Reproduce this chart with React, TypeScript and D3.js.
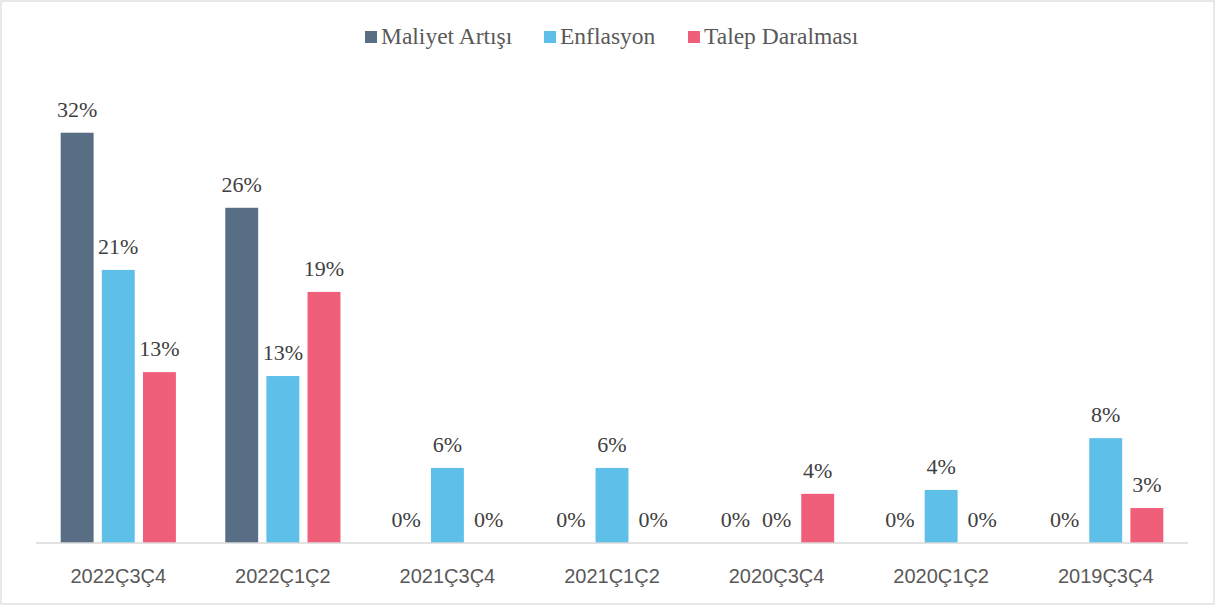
import React, {useRef, useEffect} from 'react'
import * as d3 from 'd3'

const categories = ['2022Ç3Ç4', '2022Ç1Ç2', '2021Ç3Ç4', '2021Ç1Ç2', '2020Ç3Ç4', '2020Ç1Ç2', '2019Ç3Ç4']
const seriesNames = ['Maliyet Artışı', 'Enflasyon', 'Talep Daralması']
const maliyet = [0.317, 0.259, 0, 0, 0, 0, 0]
const enflasyon = [0.211, 0.129, 0.058, 0.058, 0, 0.041, 0.081]
const talep = [0.132, 0.194, 0, 0, 0.038, 0, 0.027]
const colors = ['#586e85', '#5ec0e9', '#f05f79']

const W = 1217
const H = 608

const App = () => {
    const element = useRef<SVGSVGElement>(null)

    useEffect(() => {
        const svg = d3.select(element.current)
        svg.selectAll('*').remove()

        const values = [maliyet, enflasyon, talep]
        const left = 36, right = 1188, baseY = 543

        // outer chart border
        svg.append('rect')
            .attr('x', 1).attr('y', 1)
            .attr('width', W - 4).attr('height', H - 5)
            .attr('fill', '#fff')
            .attr('stroke', '#d9d9d9')
            .attr('stroke-width', 1.2)

        const x0 = d3.scaleBand<string>()
            .domain(categories)
            .range([left, right])
            .paddingInner(0.3)
            .paddingOuter(0.15)

        const x1 = d3.scaleBand<string>()
            .domain(seriesNames)
            .range([0, x0.bandwidth()])
            .paddingInner(0.2)

        const y = d3.scaleLinear()
            .domain([0, 0.35])
            .range([baseY, 90])

        const fmt = d3.format('.0%')

        const groups = svg.selectAll('g.cat')
            .data(categories)
            .enter()
            .append('g')
            .attr('class', 'cat')
            .attr('transform', d => `translate(${x0(d)},0)`)

        seriesNames.forEach((s, si) => {
            groups.append('rect')
                .attr('x', x1(s))
                .attr('y', (d, i) => y(values[si][i]))
                .attr('width', x1.bandwidth())
                .attr('height', (d, i) => baseY - y(values[si][i]))
                .attr('fill', colors[si])

            groups.append('text')
                .attr('x', x1(s) + x1.bandwidth() / 2)
                .attr('y', (d, i) => y(values[si][i]) - 16)
                .attr('text-anchor', 'middle')
                .style('font-family', '"Liberation Serif", "Times New Roman", serif')
                .style('font-size', '22px')
                .style('fill', '#404040')
                .text((d, i) => fmt(values[si][i]))
        })

        // baseline
        svg.append('line')
            .attr('x1', left).attr('x2', right)
            .attr('y1', baseY).attr('y2', baseY)
            .style('stroke', '#d9d9d9')
            .style('stroke-width', '1.5px')

        // category labels
        svg.selectAll('text.cat-label')
            .data(categories)
            .enter()
            .append('text')
            .attr('class', 'cat-label')
            .attr('x', d => x0(d) + x0.bandwidth() / 2)
            .attr('y', 583)
            .attr('text-anchor', 'middle')
            .style('font-family', '"Liberation Sans", Arial, sans-serif')
            .style('font-size', '20px')
            .style('fill', '#595959')
            .text(d => d)

        // legend
        const legendX = [365, 544, 688]
        const legend = svg.append('g')
        seriesNames.forEach((s, i) => {
            legend.append('rect')
                .attr('x', legendX[i]).attr('y', 31)
                .attr('width', 12).attr('height', 12)
                .attr('fill', colors[i])
            legend.append('text')
                .attr('x', legendX[i] + 16)
                .attr('y', 44)
                .style('font-family', '"Liberation Serif", "Times New Roman", serif')
                .style('font-size', '23.5px')
                .style('fill', '#595959')
                .text(s)
        })
    }, [])

    return (
        <div style={{position: 'absolute', left: 0, top: 0}}>
            <svg ref={element} width={W} height={H} style={{display: 'block'}}></svg>
        </div>
    )
}

export default App
